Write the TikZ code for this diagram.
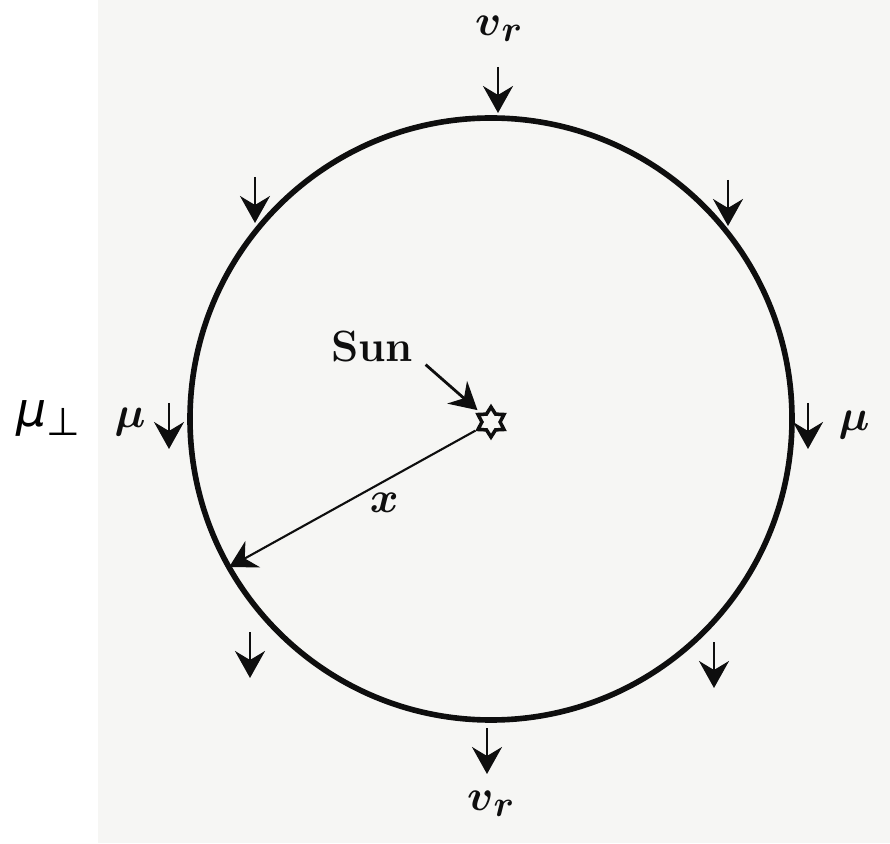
\documentclass[tikz,border=0pt]{standalone}
\usepackage{amsmath,amssymb}
\usepackage{fontspec}
\usepackage{tikz}
\usetikzlibrary{shapes.geometric, arrows.meta, positioning, calc, backgrounds}
\newfontfamily\sanslabel{DejaVu Sans}
\definecolor{PaperGray}{RGB}{246, 246, 244}
\definecolor{InkBlack}{RGB}{14, 14, 14}

\begin{document}
\begin{tikzpicture}[
        x=0.02cm, y=0.02cm,
        >={Stealth[length=0.54cm, width=0.6cm, inset=0.18cm]},
        rim/.style={draw=InkBlack, line width=3.2pt},
        vel/.style={->, draw=InkBlack, line width=1.4pt},
        pointer/.style={->, draw=InkBlack, line width=1.6pt},
        lbl/.style={inner sep=1pt, font=\Huge, text=InkBlack},
        sunmark/.style={star, star points=6, star point ratio=1.65, draw=InkBlack, line width=2pt, minimum size=0.6cm, inner sep=0pt}
    ]
        % Page
        \useasboundingbox (0,0) rectangle (890,843);
        \fill[PaperGray] (98,0) rectangle (890,843);

        % Sphere round the Sun
        \coordinate (centre) at (491,424);
        \draw[rim] (centre) circle (301);
        \node[sunmark] (sun) at (491,421) {};
        \node[lbl, font=\Huge\bfseries] (sunlbl) at (372,496) {Sun};
        \draw[pointer, shorten >=0.36cm] ([xshift=6pt]sunlbl.south east) -- (sun.center);

        % Distance x
        \coordinate (edge) at ($(centre)+(209.5:301)$);
        \draw[pointer, line width=1.2pt] (sun) -- (edge) node[lbl, pos=0.37, below=5pt] (xlbl) {$\boldsymbol{x}$};

        % Velocity arrows
        \foreach \px/\py in {498/776, 255/666, 728/663, 169/440, 808/440, 250/211, 714/201, 487/115}
            \draw[vel] (\px,\py) -- ++(0,-46);

        % Labels
        \node[lbl] (vrtop) at (499,814) {$\boldsymbol{v}_{\boldsymbol{r}}$};
        \node[lbl] (vrbot) at (491,39) {$\boldsymbol{v}_{\boldsymbol{r}}$};
        \node[lbl] (muleft) at (130,421) {$\boldsymbol{\mu}$};
        \node[lbl] (muright) at (854,418) {$\boldsymbol{\mu}$};
        \node[inner sep=0pt, font={\sanslabel\fontsize{27}{31}\selectfont}] (muperp) at (48,425) {\textit{μ}\raisebox{-0.35ex}{\fontsize{22}{26}\selectfont ⊥}};
    \end{tikzpicture}
\end{document}
